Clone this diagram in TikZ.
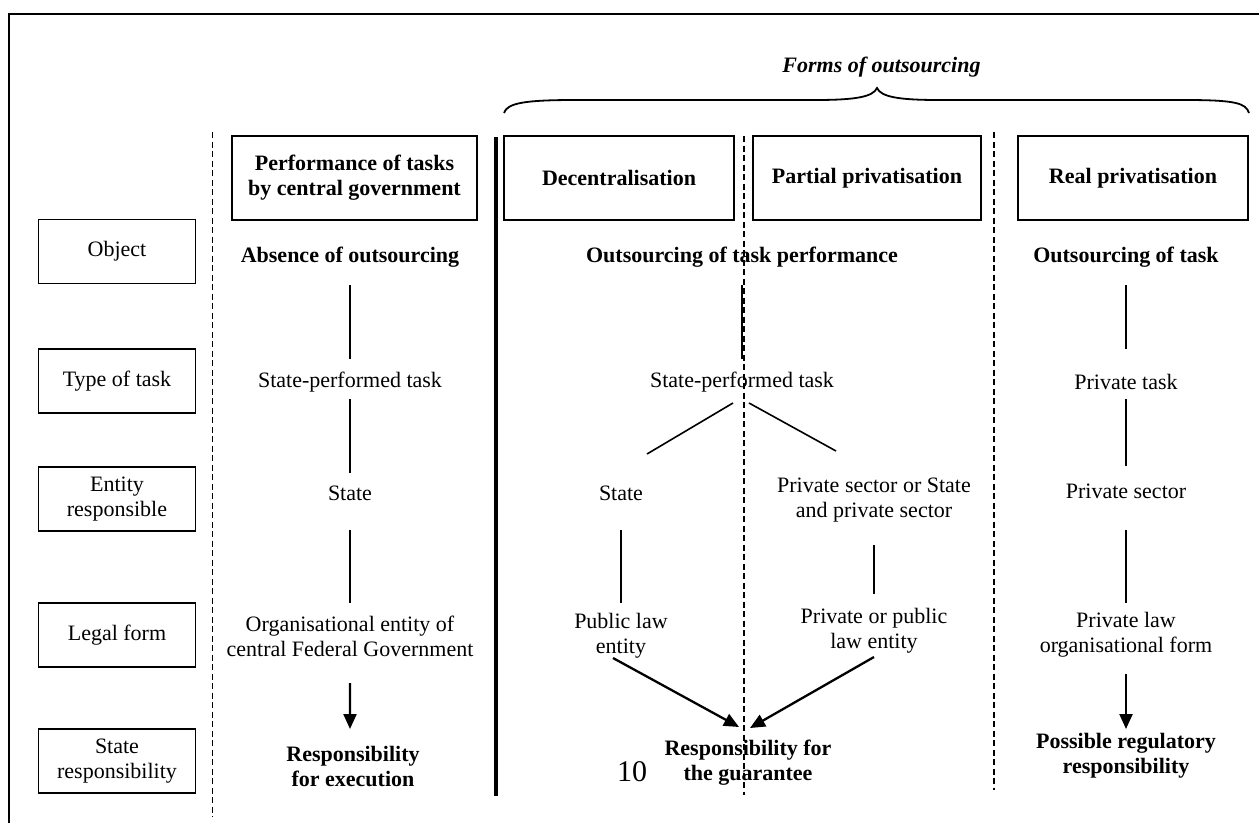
\documentclass[tikz,border=0pt]{standalone}
\usepackage{fontspec}
\setmainfont{Liberation Serif}
\usetikzlibrary{arrows.meta}
\begin{document}
\fontsize{22}{25}\selectfont
\begin{tikzpicture}[x=10pt,y=10pt,
  every node/.style={inner sep=0pt, align=center},
  rowbox/.style={draw, line width=1.9pt, minimum width=157pt, minimum height=64pt},
  colbox/.style={draw, line width=1.9pt, minimum height=84pt, font=\bfseries},
  link/.style={line width=1.6pt},
  push/.style={line width=2.3pt, -{Triangle[length=15pt,width=13pt]}},
  divide/.style={line width=1.7pt, dash pattern=on 6pt off 3.5pt}]
\useasboundingbox (0,0) rectangle (125.9,-82.3);
\draw [line width=2pt] (0.9,-82.3) -- (0.9,-1.4) -- (125.9,-1.4);
\draw [divide] (21.25,-13.2) -- (21.25,-81.7);
\draw [divide] (74.4,-13.6) -- (74.4,-79.5);
\draw [divide] (99.4,-13.2) -- (99.4,-79.0);
\draw [line width=4.5pt] (49.6,-13.7) -- (49.6,-79.6);
\draw [line width=1.8pt] (50.4,-11.3) .. controls (50.7,-10.3) and (52.5,-10.0) .. (57.5,-10.0) -- (81.5,-10.0)
  .. controls (85.5,-10.0) and (87.3,-9.7) .. (87.7,-8.8) .. controls (88.1,-9.7) and (89.9,-10.0) .. (93.9,-10.0)
  -- (118.5,-10.0) .. controls (123.5,-10.0) and (124.6,-10.3) .. (124.9,-11.3);
\node [font=\bfseries\itshape] (forms) at (88.15,-6.7) {Forms of outsourcing};
\node [rowbox] (lobj) at (11.7,-25.15) {Object};
\node [rowbox] (ltype) at (11.7,-38.1) {Type of task};
\node [rowbox] (lent) at (11.7,-49.9) {Entity\\responsible};
\node [rowbox] (llegal) at (11.7,-63.5) {Legal form};
\node [rowbox] (lresp) at (11.7,-76.1) {State\\responsibility};
\node [colbox, minimum width=245pt] (hcentral) at (35.45,-17.8) {Performance of tasks\\by central government};
\node [colbox, minimum width=230pt] (hdecent) at (61.9,-17.8) {Decentralisation};
\node [colbox, minimum width=228pt] (hpartial) at (86.7,-17.8) {Partial privatisation};
\node [colbox, minimum width=230pt] (hreal) at (113.3,-17.8) {Real privatisation};
\node [font=\bfseries] (abs) at (35.0,-25.7) {Absence of outsourcing};
\node [font=\bfseries] (otp) at (74.2,-25.7) {Outsourcing of task performance};
\node [font=\bfseries] (otk) at (112.6,-25.7) {Outsourcing of task};
\node (task1) at (35.0,-38.2) {State-performed task};
\node (task2) at (74.2,-38.2) {State-performed task};
\node (task3) at (112.6,-38.2) {Private task};
\node (state1) at (35.0,-49.3) {State};
\node (state2) at (62.1,-49.3) {State};
\node (priv2) at (87.4,-50.0) {Private sector or State\\and private sector};
\node (priv3) at (112.6,-49.1) {Private sector};
\node (org1) at (35.0,-63.6) {Organisational entity of\\central Federal Government};
\node (pub2) at (62.1,-63.6) {Public law\\entity};
\node (ppl2) at (87.4,-63.1) {Private or public\\law entity};
\node (pl3) at (112.6,-63.5) {Private law\\organisational form};
\node [font=\bfseries] (resp1) at (35.3,-76.6) {Responsibility\\for execution};
\node [font=\bfseries] (guar) at (74.8,-76.3) {Responsibility for\\the guarantee};
\node [font=\bfseries] (reg3) at (112.6,-75.6) {Possible regulatory\\responsibility};
\node [font=\fontsize{30}{30}\selectfont] (pageno) at (63.2,-77.2) {10};
\draw [link] ([yshift=-28pt]abs.center) -- ([yshift=23pt]task1.center);
\draw [link] ([yshift=-17pt]task1.center) -- ([yshift=20pt]state1.center);
\draw [link] ([yshift=-37pt]state1.center) -- ([yshift=33pt]org1.center);
\draw [push] ([yshift=-47pt]org1.center) -- ([xshift=-3pt,yshift=37pt]resp1.center);
\draw [link] ([yshift=-28pt]otp.center) -- ([yshift=23pt]task2.center);
\draw [link] ([xshift=-9pt,yshift=-21pt]task2.center) -- ([xshift=26pt,yshift=39pt]state2.center);
\draw [link] ([xshift=7pt,yshift=-21pt]task2.center) -- ([xshift=-38pt,yshift=49pt]priv2.center);
\draw [link] ([yshift=-37pt]state2.center) -- ([yshift=33pt]pub2.center);
\draw [link] ([yshift=-45pt]priv2.center) -- ([yshift=37pt]ppl2.center);
\draw [push] ([xshift=-8pt,yshift=-22pt]pub2.center) -- ([xshift=-9pt,yshift=36pt]guar.center);
\draw [push] ([yshift=-26pt]ppl2.center) -- ([xshift=2pt,yshift=35pt]guar.center);
\draw [link] ([yshift=-28pt]otk.center) -- ([yshift=33pt]task3.center);
\draw [link] ([yshift=-17pt]task3.center) -- ([yshift=25pt]priv3.center);
\draw [link] ([yshift=-39pt]priv3.center) -- ([yshift=32pt]pl3.center);
\draw [push] ([yshift=-39pt]pl3.center) -- ([yshift=27pt]reg3.center);
\end{tikzpicture}
\end{document}
